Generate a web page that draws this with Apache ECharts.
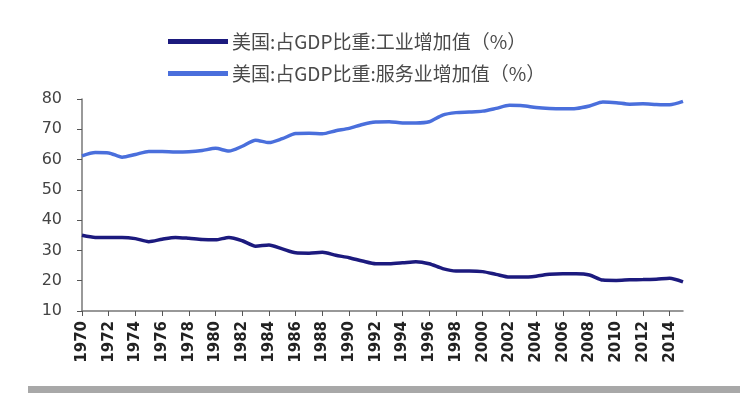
<!DOCTYPE html>
<html>
<head>
<meta charset="utf-8">
<script src="https://cdn.jsdelivr.net/npm/echarts@6/dist/echarts.min.js"></script>
<style>
html,body{margin:0;padding:0;background:#fff;}
#chart{width:751px;height:393px;}
</style>
</head>
<body>
<div id="chart"></div>
<script>
var years = [];
for (var y = 1970; y <= 2015; y++) years.push(String(y));

var industryName = '美国:占GDP比重:工业增加值（%）';
var servicesName = '美国:占GDP比重:服务业增加值（%）';

var industry = [35.0, 34.3, 34.3, 34.3, 33.9, 32.9, 33.7, 34.3, 34.0, 33.6,
                33.5, 34.3, 33.2, 31.4, 31.8, 30.5, 29.2, 29.1, 29.4, 28.4,
                27.6, 26.5, 25.6, 25.6, 25.9, 26.3, 25.6, 24.0, 23.2, 23.2,
                23.0, 22.1, 21.2, 21.2, 21.5, 22.1, 22.3, 22.3, 21.9, 20.2,
                20.1, 20.3, 20.4, 20.5, 20.8, 19.6];

var services = [61.2, 62.3, 62.2, 60.8, 61.7, 62.7, 62.7, 62.5, 62.6, 63.0,
                63.7, 62.8, 64.4, 66.4, 65.6, 66.9, 68.6, 68.7, 68.5, 69.5,
                70.3, 71.6, 72.4, 72.5, 72.1, 72.1, 72.5, 74.7, 75.5, 75.7,
                76.0, 76.9, 77.9, 77.8, 77.2, 76.9, 76.8, 76.9, 77.7, 79.0,
                78.8, 78.3, 78.4, 78.2, 78.1, 79.2];

var chart = echarts.init(document.getElementById('chart'), null, {renderer: 'canvas'});
chart.setOption({
  animation: false,
  backgroundColor: '#fff',
  legend: {
    orient: 'vertical',
    left: 163,
    top: 27,
    itemWidth: 60,
    itemHeight: 5,
    itemGap: 13,
    icon: 'rect',
    textStyle: {
      fontFamily: '"Noto Sans CJK SC", sans-serif',
      fontSize: 19,
      color: '#4a4a4a',
      padding: [0, 0, 0, -1]
    },
    data: [industryName, servicesName]
  },
  grid: {
    left: 82, right: 68, top: 99, bottom: 82,
    containLabel: false,
    outerBoundsMode: 'none'
  },
  xAxis: {
    type: 'category',
    data: years,
    boundaryGap: false,
    axisLine: {lineStyle: {color: '#777', width: 1.5}},
    axisTick: {interval: 1, length: 5, lineStyle: {color: '#555'}},
    axisLabel: {
      interval: 1,
      rotate: 90,
      margin: 10,
      fontFamily: '"DejaVu Sans", sans-serif',
      fontSize: 15,
      fontWeight: 'bold',
      color: '#222'
    },
    splitLine: {show: false}
  },
  yAxis: {
    type: 'value',
    min: 10,
    max: 80,
    interval: 10,
    axisLine: {show: true, lineStyle: {color: '#777', width: 1.5}},
    axisTick: {show: true, length: 5, lineStyle: {color: '#555'}},
    axisLabel: {
      margin: 20,
      fontFamily: '"DejaVu Sans", sans-serif',
      fontSize: 16,
      color: '#444'
    },
    splitLine: {show: false}
  },
  graphic: [{
    type: 'rect',
    left: 28, top: 386,
    shape: {width: 712, height: 7},
    style: {fill: '#a8a8a8'}
  }],
  series: [{
    name: industryName,
    type: 'line',
    data: industry,
    smooth: 0.25,
    showSymbol: false,
    symbol: 'none',
    lineStyle: {color: '#1c1a7e', width: 3.5},
    itemStyle: {color: '#1c1a7e'}
  }, {
    name: servicesName,
    type: 'line',
    data: services,
    smooth: 0.25,
    showSymbol: false,
    symbol: 'none',
    lineStyle: {color: '#4a6fdc', width: 3.5},
    itemStyle: {color: '#4a6fdc'}
  }]
});
</script>
</body>
</html>
